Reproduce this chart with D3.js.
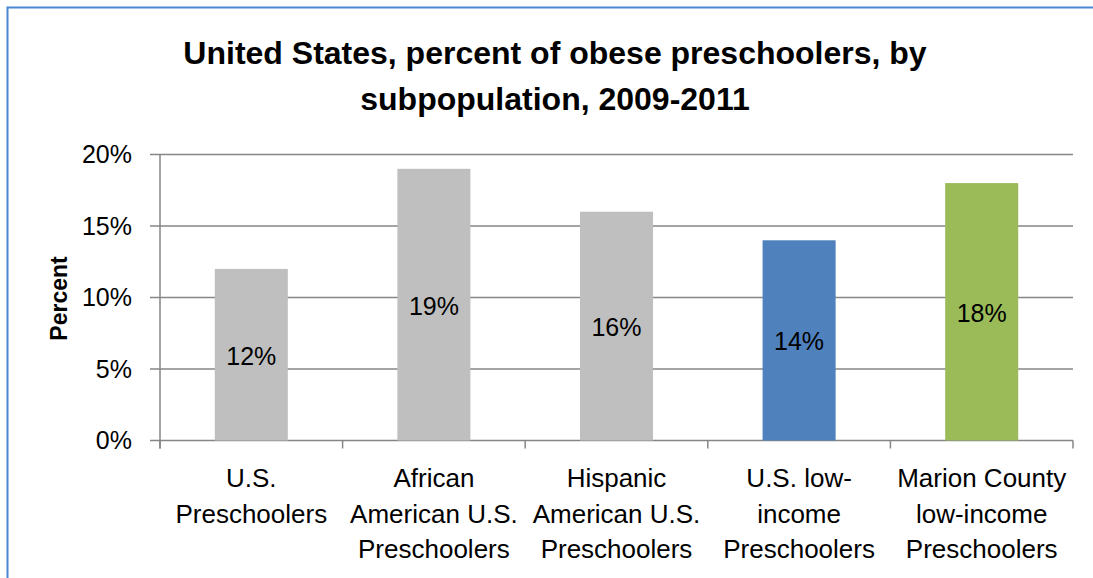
<!DOCTYPE html>
<html>
<head>
<meta charset="utf-8">
<script src="https://cdn.jsdelivr.net/npm/d3@7"></script>
<style>
  body { margin: 0; background: #fff; }
  svg { display: block; font-family: "Liberation Sans", Arial, sans-serif; }
</style>
</head>
<body>
<div id="chart"></div>
<script>
const categories = [
  ["U.S.", "Preschoolers"],
  ["African", "American U.S.", "Preschoolers"],
  ["Hispanic", "American U.S.", "Preschoolers"],
  ["U.S. low-", "income", "Preschoolers"],
  ["Marion County", "low-income", "Preschoolers"]
];
const values = [12, 19, 16, 14, 18];
const barColors = ["#bfbfbf", "#bfbfbf", "#bfbfbf", "#4f81bd", "#9bbb59"];
const yTicks = [0, 5, 10, 15, 20];
const titleLines = ["United States, percent of obese preschoolers, by", "subpopulation, 2009-2011"];

const width = 1093, height = 578;
const margin = { left: 160, right: 20, top: 154.5, bottom: 137.5 };
const plotW = width - margin.left - margin.right;
const plotH = height - margin.top - margin.bottom;

const svg = d3.select("#chart").append("svg")
  .attr("width", width)
  .attr("height", height);

// chart frame
svg.append("rect")
  .attr("x", 7.5).attr("y", 7.5)
  .attr("width", width + 10).attr("height", height + 10)
  .attr("fill", "none")
  .attr("stroke", "#4a86d4")
  .attr("stroke-width", 2);

const title = svg.append("text")
  .attr("text-anchor", "middle")
  .style("font-weight", "700")
  .style("font-size", "32px")
  .attr("fill", "#000");
titleLines.forEach((t, i) => {
  title.append("tspan").attr("x", 555).attr("y", 63.5 + i * 46.5).text(t);
});

const g = svg.append("g").attr("transform", `translate(${margin.left},${margin.top})`);

const x = d3.scaleBand()
  .domain(d3.range(categories.length))
  .range([0, plotW])
  .paddingInner(0.6)
  .paddingOuter(0.3);

const y = d3.scaleLinear().domain([0, 20]).range([plotH, 0]);

// gridlines
g.append("g")
  .selectAll("line")
  .data(yTicks)
  .join("line")
  .attr("x1", -10).attr("x2", plotW)
  .attr("y1", d => y(d)).attr("y2", d => y(d))
  .attr("stroke", "#868686")
  .attr("stroke-width", 1.5);

// y tick labels
g.append("g")
  .selectAll("text")
  .data(yTicks)
  .join("text")
  .attr("x", -28)
  .attr("y", d => y(d))
  .attr("dy", "0.35em")
  .attr("text-anchor", "end")
  .style("font-size", "25px")
  .text(d => d + "%");

// bars
g.append("g")
  .selectAll("rect")
  .data(values)
  .join("rect")
  .attr("x", (d, i) => x(i))
  .attr("y", d => y(d))
  .attr("width", x.bandwidth())
  .attr("height", d => plotH - y(d))
  .attr("fill", (d, i) => barColors[i]);

// data labels
g.append("g")
  .selectAll("text")
  .data(values)
  .join("text")
  .attr("x", (d, i) => x(i) + x.bandwidth() / 2)
  .attr("y", d => (y(d) + plotH) / 2)
  .attr("dy", "0.4em")
  .attr("text-anchor", "middle")
  .style("font-size", "25px")
  .text(d => d + "%");

// y axis line
g.append("line")
  .attr("x1", 0).attr("x2", 0)
  .attr("y1", 0).attr("y2", plotH + 8)
  .attr("stroke", "#868686")
  .attr("stroke-width", 1.5);

// x axis ticks at category boundaries
const step = x.step();
g.append("g")
  .selectAll("line")
  .data(d3.range(categories.length + 1))
  .join("line")
  .attr("x1", d => d * step).attr("x2", d => d * step)
  .attr("y1", plotH).attr("y2", plotH + 8)
  .attr("stroke", "#868686")
  .attr("stroke-width", 1.5);

// x category labels
const xl = g.append("g")
  .selectAll("text")
  .data(categories)
  .join("text")
  .attr("text-anchor", "middle")
  .style("font-size", "26px");
xl.each(function(lines, i) {
  const t = d3.select(this);
  lines.forEach((line, j) => {
    t.append("tspan")
      .attr("x", x(i) + x.bandwidth() / 2)
      .attr("y", plotH + 46.5 + j * 35.5)
      .text(line);
  });
});

// y axis title
svg.append("text")
  .attr("transform", "translate(67,298.5) rotate(-90)")
  .attr("text-anchor", "middle")
  .style("font-weight", "700")
  .style("font-size", "23px")
  .text("Percent");
</script>
</body>
</html>
